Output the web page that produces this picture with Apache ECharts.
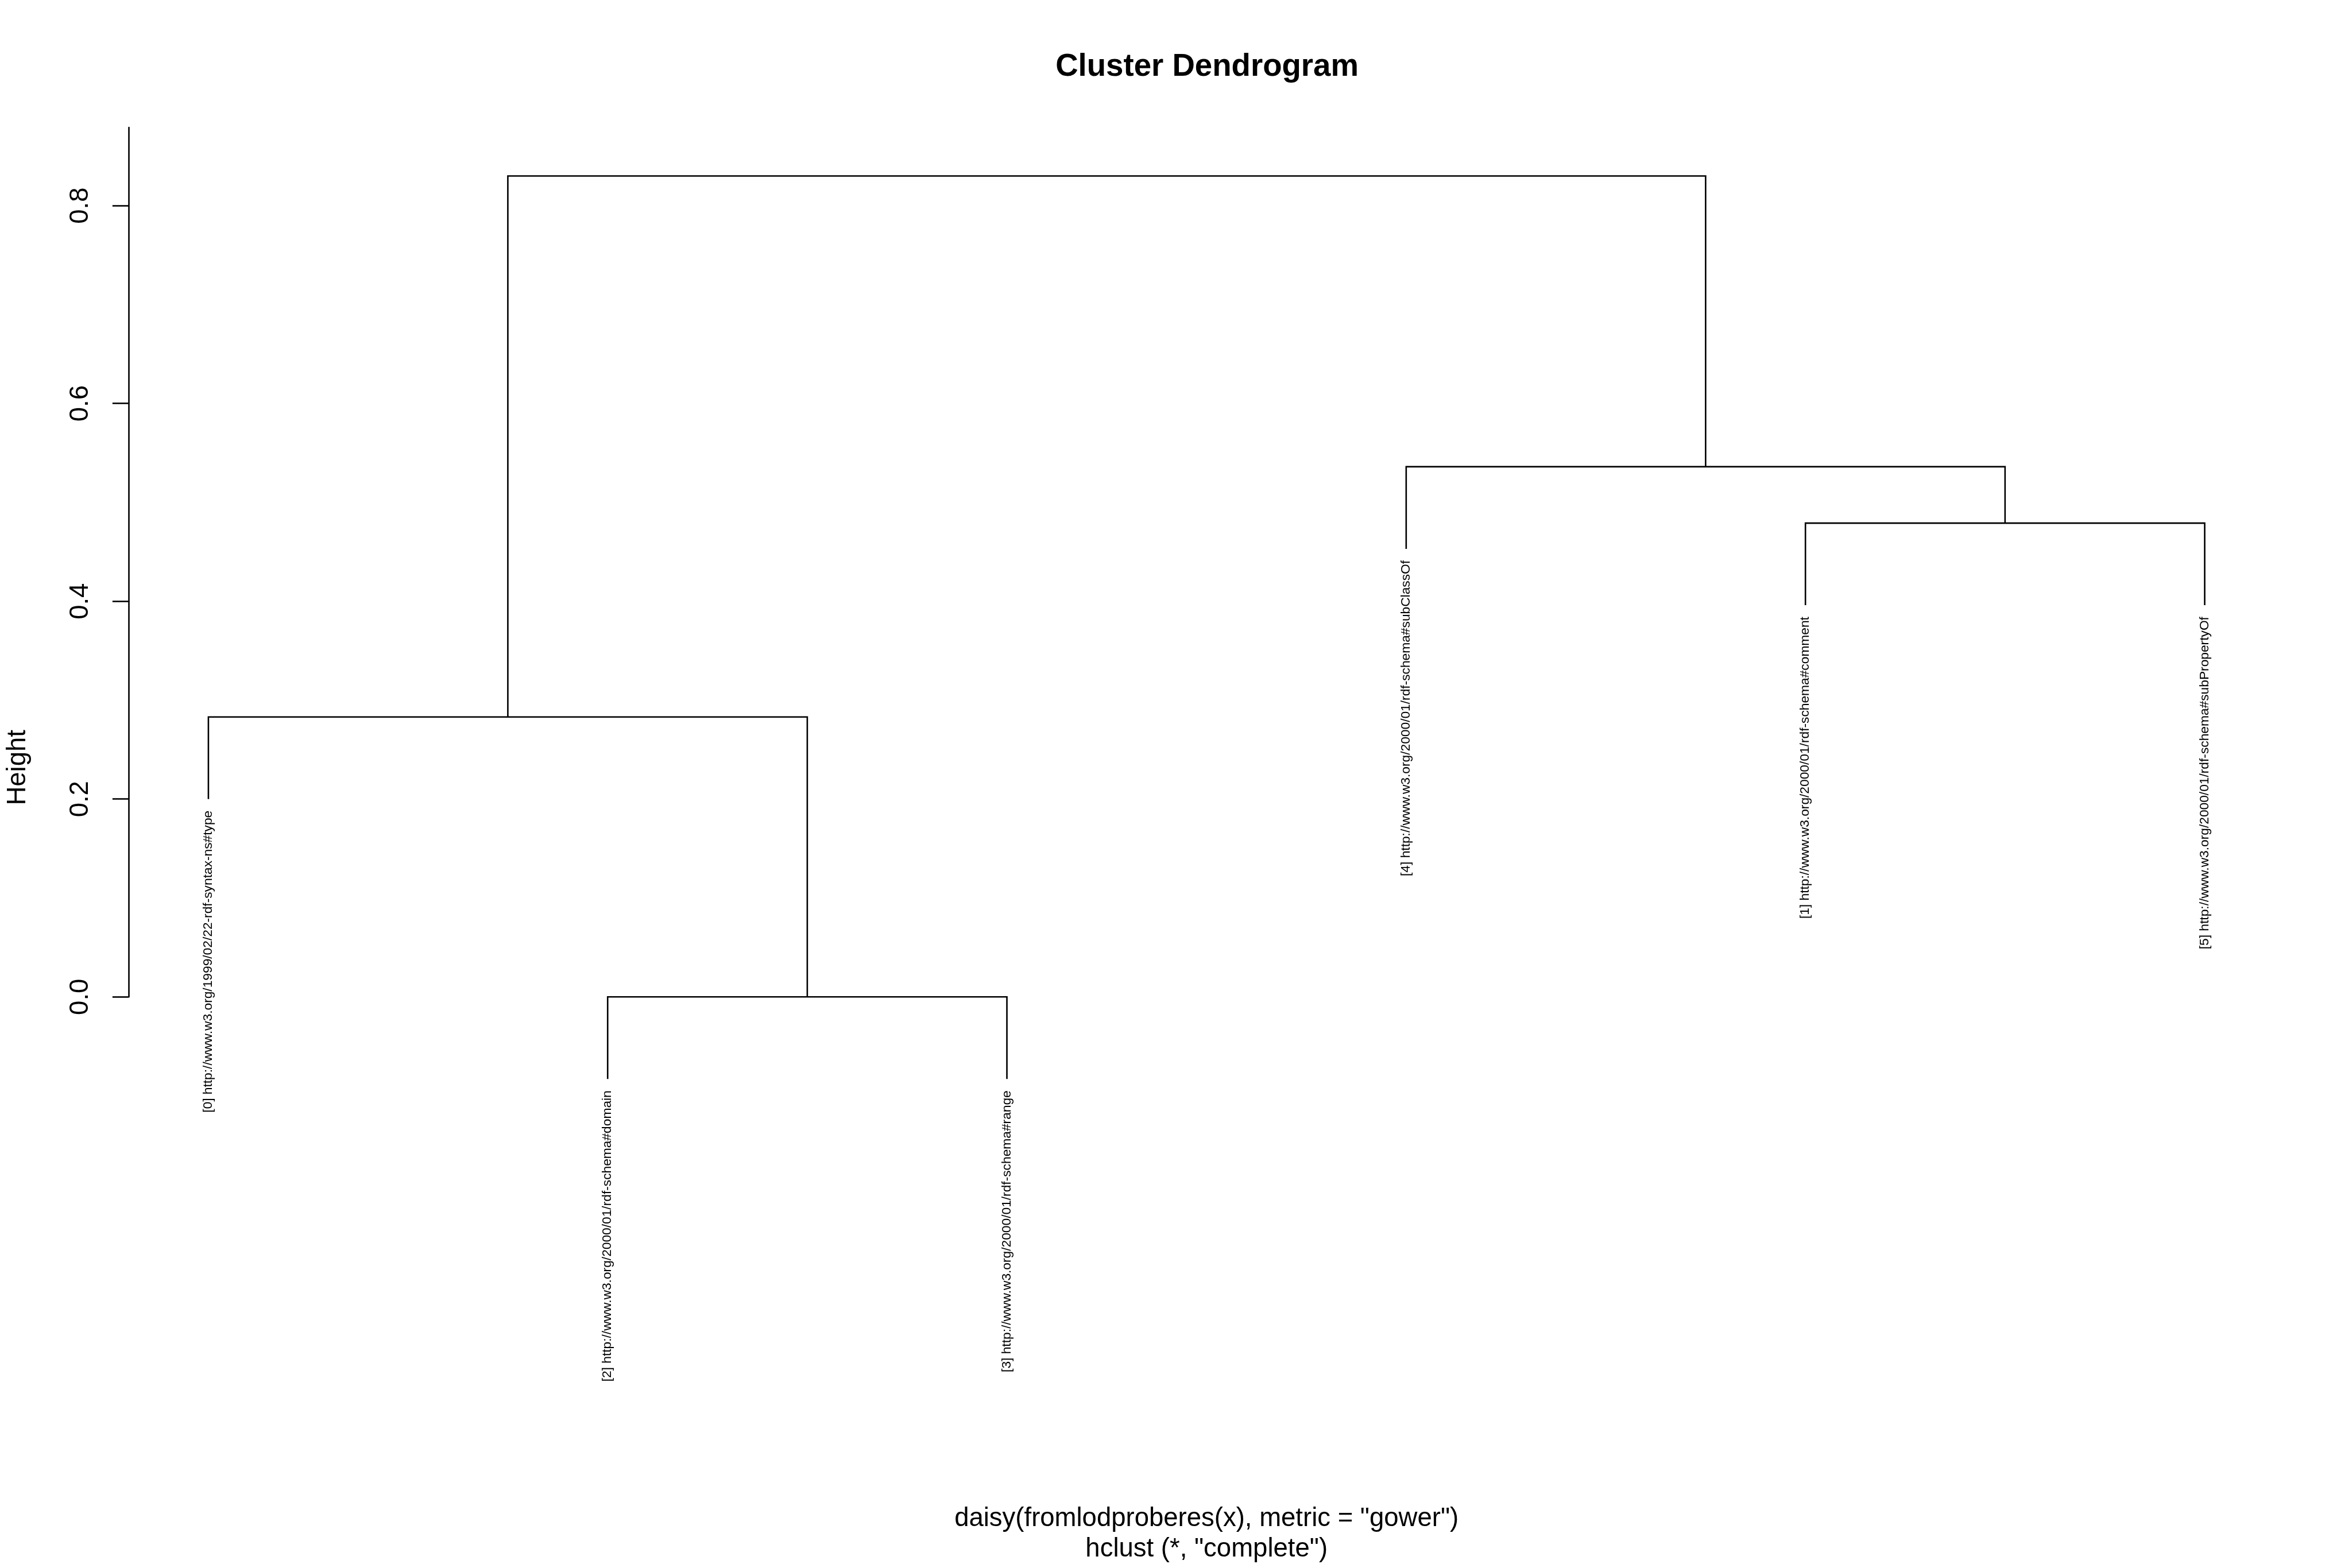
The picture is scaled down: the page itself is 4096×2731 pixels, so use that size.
<!DOCTYPE html>
<html>
<head>
<meta charset="utf-8">
<script src="https://cdn.jsdelivr.net/npm/echarts@6/dist/echarts.min.js"></script>
<style>
html,body{margin:0;padding:0;background:#fff;}
#chart{width:4096px;height:2731px;}
</style>
</head>
<body>
<div id="chart"></div>
<script>
// ---- data ----
// leaves in plotting order (left to right)
const leafLabels = [
  "[0] http://www.w3.org/1999/02/22-rdf-syntax-ns#type",
  "[2] http://www.w3.org/2000/01/rdf-schema#domain",
  "[3] http://www.w3.org/2000/01/rdf-schema#range",
  "[4] http://www.w3.org/2000/01/rdf-schema#subClassOf",
  "[1] http://www.w3.org/2000/01/rdf-schema#comment",
  "[5] http://www.w3.org/2000/01/rdf-schema#subPropertyOf"
];
// merges: negative = leaf (1-based position), positive = earlier merge (1-based)
const mergeLeft   = [-2, -5, -1, -4, 3];
const mergeRight  = [-3, -6, 1, 2, 4];
const mergeHeight = [0.0, 0.479, 0.283, 0.536, 0.830];
const hang = 0.083;
const yTicks = [0, 0.2, 0.4, 0.6, 0.8];
const titleText = "Cluster Dendrogram";
const yTitle = "Height";
const subLines = ['daisy(fromlodproberes(x), metric = "gower")', 'hclust (*, "complete")'];

// ---- build ----
const S = 0.91;
const FONT = "'Liberation Sans', Arial, Helvetica, sans-serif";
const mergeX = [];
function nodeX(id){ return id < 0 ? -id : mergeX[id-1]; }
for (let i = 0; i < mergeHeight.length; i++) {
  mergeX.push((nodeX(mergeLeft[i]) + nodeX(mergeRight[i])) / 2);
}
const linkData = [];
const leafBottom = new Array(leafLabels.length).fill(0);
for (let i = 0; i < mergeHeight.length; i++) {
  const h = mergeHeight[i];
  const l = mergeLeft[i], r = mergeRight[i];
  const yl = l < 0 ? h - hang : mergeHeight[l-1];
  const yr = r < 0 ? h - hang : mergeHeight[r-1];
  if (l < 0) leafBottom[-l-1] = h - hang;
  if (r < 0) leafBottom[-r-1] = h - hang;
  linkData.push([nodeX(l), yl, nodeX(r), yr, h]);
}
const leafData = leafLabels.map((t, i) => [i + 1, leafBottom[i]]);

const chart = echarts.init(document.getElementById('chart'), null, {renderer: 'canvas'});
const option = {
  backgroundColor: '#ffffff',
  animation: false,
  grid: {left: 246*S, right: 4096 - 4372*S, top: 244*S, bottom: 2731 - 1908*S, containLabel: false},
  xAxis: {type: 'value', min: 0.8, max: 6.2, show: false},
  yAxis: {
    type: 'value', min: 0, max: 0.879,
    axisLine: {show: true, lineStyle: {color: '#000', width: 2.6}},
    axisTick: {show: true, customValues: yTicks, length: 28, lineStyle: {color: '#000', width: 2.6}},
    axisLabel: {show: true, customValues: yTicks, rotate: 90, margin: 60, fontSize: 45.5, fontFamily: FONT, color: '#000',
      formatter: v => Number(v).toFixed(1)},
    splitLine: {show: false}
  },
  series: [
    {
      type: 'custom', clip: false, silent: true,
      data: linkData,
      renderItem: function (params, api) {
        const p1 = api.coord([api.value(0), api.value(1)]);
        const p2 = api.coord([api.value(0), api.value(4)]);
        const p3 = api.coord([api.value(2), api.value(4)]);
        const p4 = api.coord([api.value(2), api.value(3)]);
        return {type: 'polyline', shape: {points: [p1, p2, p3, p4]},
          style: {stroke: '#000', lineWidth: 2.6, fill: null}};
      }
    },
    {
      type: 'custom', clip: false, silent: true,
      data: leafData,
      renderItem: function (params, api) {
        const p = api.coord([api.value(0), api.value(1)]);
        return {type: 'text', x: p[0], y: p[1] + 20, rotation: Math.PI / 2,
          style: {text: leafLabels[params.dataIndex], fontSize: 22.75, fontFamily: FONT,
            fill: '#000', align: 'right', verticalAlign: 'middle'}};
      }
    }
  ],
  graphic: [
    {type: 'text', x: 2310*S, y: 129*S, style: {text: titleText, fontSize: 54.6, fontWeight: 'bold', fontFamily: FONT,
      fill: '#000', align: 'center', verticalAlign: 'middle'}},
    {type: 'text', x: 35*S, y: 1469*S, rotation: Math.PI/2, style: {text: yTitle, fontSize: 45.5, fontFamily: FONT,
      fill: '#000', align: 'center', verticalAlign: 'middle'}},
    {type: 'text', x: 2309*S, y: 2907*S, style: {text: subLines[0], fontSize: 45.5, fontFamily: FONT,
      fill: '#000', align: 'center', verticalAlign: 'middle'}},
    {type: 'text', x: 2309*S, y: 2965*S, style: {text: subLines[1], fontSize: 45.5, fontFamily: FONT,
      fill: '#000', align: 'center', verticalAlign: 'middle'}}
  ]
};
chart.setOption(option);
</script>
</body>
</html>
